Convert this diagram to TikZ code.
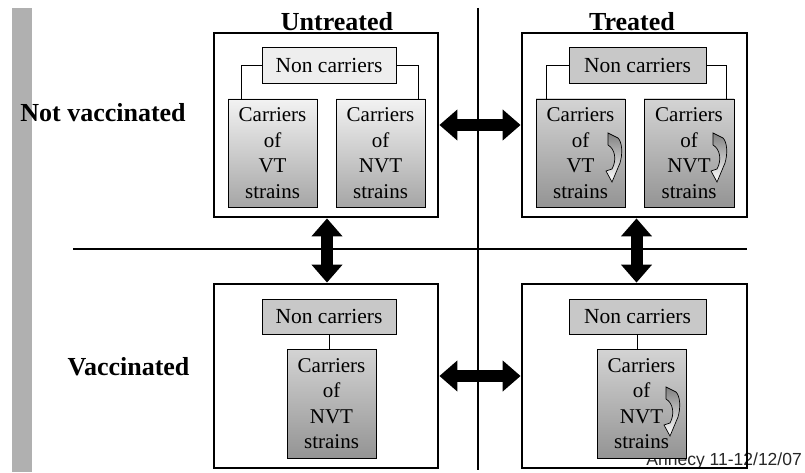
\documentclass[tikz,border=0pt]{standalone}
\usepackage{fontspec}
\setmainfont{Liberation Serif}
\newfontfamily\footfont{Liberation Sans}
\usetikzlibrary{arrows.meta,calc}

\definecolor{barGray}{HTML}{B0B0B0}
\definecolor{ncLight}{HTML}{EEEEEE}
\definecolor{ncDark}{HTML}{C8C8C8}

\tikzset{
  x=1pt, y=-1pt,
  divider/.style={line width=2.4pt},
  outerbox/.style={draw, line width=2.8pt, inner sep=0pt},
  ncbox/.style={draw, line width=0.8pt, inner sep=0pt, font=\fontsize{21.5}{24}\selectfont},
  carrierbox/.style={draw, line width=0.8pt, inner sep=0pt, align=center,
    minimum width=89pt, minimum height=108pt,
    font=\fontsize{21}{25.5}\selectfont},
  shadeLight/.style={top color=white!95!black, bottom color=black!35},
  shadeDark/.style={top color=black!17, bottom color=black!42},
  link/.style={line width=0.8pt},
  bigarrow/.style={line width=12pt, {Triangle[length=18pt,width=30pt]}-{Triangle[length=18pt,width=30pt]}},
  rowlabel/.style={font=\fontsize{26}{28}\selectfont\bfseries},
  swaparrow/.pic={
    \draw[line width=0.7pt, top color=black!50, bottom color=white]
      (0,0) -- (10,5) .. controls (14,9) and (15,20) .. (12,30)
      -- (4,49) -- (-2,38) -- (4,36)
      .. controls (9,27) and (7,16) .. (0,12) -- cycle;
  }
}

\begin{document}
\begin{tikzpicture}
\useasboundingbox (0,0) rectangle (805,473);

% left margin bar
\fill[barGray] (12,8) rectangle (32,472);

% quadrant dividers
\draw[divider] (478,8) -- (478,470);
\draw[divider] (73,249) -- (747,249);

% column and row headings
\node[rowlabel] (hUntr) at (337,22) {Untreated};
\node[rowlabel] (hTr) at (632,22) {Treated};
\node[rowlabel] (hNotVac) at (103,113) {Not vaccinated};
\node[rowlabel] (hVac) at (128.5,367) {Vaccinated};

% footer
\node[anchor=base east, font=\footfont\fontsize{17.5}{20}\selectfont, text=black!85, inner sep=0pt] (foot) at (802,465) {Annecy 11-12/12/07};

% outer quadrant boxes
\node[outerbox, minimum width=224pt, minimum height=184pt] (tl) at (326,125) {};
\node[outerbox, minimum width=225pt, minimum height=184pt] (tr) at (634.5,125) {};
\node[outerbox, minimum width=224pt, minimum height=184pt] (bl) at (326,376) {};
\node[outerbox, minimum width=225pt, minimum height=184pt] (br) at (634.5,376) {};

% untreated, not vaccinated
\node[ncbox, fill=ncLight, minimum width=134pt, minimum height=36pt] (tlnc) at (329,65) {Non carriers};
\node[carrierbox, shadeLight] (tlvt) at (272.5,153) {Carriers\\of\\VT\\strains};
\node[carrierbox, shadeLight] (tlnvt) at (380.5,153) {Carriers\\of\\NVT\\strains};
\draw[link] (tlnc.west) -| ([xshift=14pt]tlvt.north west);
\draw[link] (tlnc.east) -| ([xshift=-7pt]tlnvt.north east);

% treated, not vaccinated
\node[ncbox, fill=ncDark, minimum width=137pt, minimum height=36pt] (trnc) at (637.5,65) {Non carriers};
\node[carrierbox, shadeDark] (trvt) at (580.5,153) {Carriers\\of\\VT\\strains};
\node[carrierbox, shadeDark, minimum width=90pt] (trnvt) at (689,153) {Carriers\\of\\NVT\\strains};
\draw[link] (trnc.west) -| ([xshift=11pt]trvt.north west);
\draw[link] (trnc.east) -| ([xshift=-8pt]trnvt.north east);
\pic at (608,133) {swaparrow};
\pic at (713,133) {swaparrow};

% untreated, vaccinated
\node[ncbox, fill=ncDark, minimum width=134pt, minimum height=35pt] (blnc) at (329,316.5) {Non carriers};
\node[carrierbox, shadeDark, minimum height=109pt] (blnvt) at (331.5,403.5) {Carriers\\of\\NVT\\strains};
\draw[link] (blnc.south) -- (blnc.south |- blnvt.north);

% treated, vaccinated
\node[ncbox, fill=ncDark, minimum width=137pt, minimum height=35pt] (brnc) at (637.5,316.5) {Non carriers};
\node[carrierbox, shadeDark, minimum height=109pt] (brnvt) at (641.5,403.5) {Carriers\\of\\NVT\\strains};
\draw[link] (brnc.south) -- (brnc.south |- brnvt.north);
\pic at (666,387) {swaparrow};

% transitions between quadrants
\draw[bigarrow] (tl.east) -- (tr.west);
\draw[bigarrow] (bl.east) -- (br.west);
\draw[bigarrow] ([xshift=1pt]tl.south) -- ([xshift=1pt]bl.north);
\draw[bigarrow] ([xshift=2pt]tr.south) -- ([xshift=2pt]br.north);
\end{tikzpicture}
\end{document}
